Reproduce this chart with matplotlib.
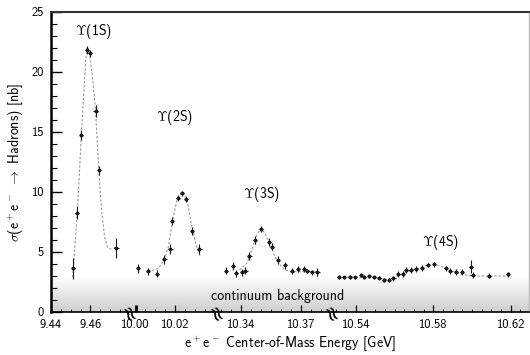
import numpy as np
import matplotlib
matplotlib.use('Agg')
from matplotlib import pyplot as plt
from matplotlib import transforms
from matplotlib.colors import LinearSegmentedColormap
from matplotlib.ticker import FixedLocator, FixedFormatter, NullFormatter

plt.rcParams['font.family'] = ['cmss10', 'DejaVu Sans']
plt.rcParams['mathtext.fontset'] = 'cm'
plt.rcParams['axes.unicode_minus'] = False

# ---- data ----
# Y(1S) scan
e1 = [9.4513, 9.4533, 9.4553, 9.4581, 9.4596, 9.4626, 9.4642, 9.4731]
s1 = [3.64, 8.27, 14.75, 21.83, 21.55, 16.75, 11.8, 5.33]
d1 = [0.9, 0.55, 0.4, 0.3, 0.3, 0.5, 0.35, 0.8]
# Y(2S) scan
e2 = [10.0014, 10.0062, 10.0107, 10.0146, 10.0176, 10.0186, 10.0214, 10.0234,
      10.0256, 10.0286, 10.0323]
s2 = [3.64, 3.39, 3.19, 4.39, 5.25, 7.58, 9.47, 9.89, 9.39, 6.75, 5.25]
d2 = [0.4, 0.3, 0.3, 0.35, 0.4, 0.3, 0.25, 0.2, 0.25, 0.3, 0.45]
# Y(3S) scan
e3 = [10.3324, 10.3359, 10.3375, 10.3407, 10.3422, 10.3442, 10.3469, 10.3499,
      10.3540, 10.3555, 10.3585, 10.3619, 10.3654, 10.3684, 10.3717, 10.3732,
      10.3754, 10.3782]
s3 = [3.44, 3.83, 3.22, 3.31, 3.44, 4.67, 6.0, 6.89, 5.83, 5.44, 4.33, 3.89,
      3.42, 3.56, 3.56, 3.42, 3.31, 3.31]
d3 = [0.3, 0.3, 0.3, 0.3, 0.3, 0.3, 0.3, 0.25, 0.3, 0.3, 0.3, 0.3,
      0.25, 0.25, 0.25, 0.2, 0.2, 0.35]
# Y(4S) scan
e4 = [10.5313, 10.5341, 10.5370, 10.5396, 10.5425, 10.5442, 10.5468, 10.5495,
      10.5520, 10.5546, 10.5571, 10.5594, 10.5619, 10.5642, 10.5658, 10.5683,
      10.5709, 10.5740, 10.5774, 10.5804, 10.5864, 10.5886, 10.5916, 10.5947,
      10.5993, 10.6003, 10.6087, 10.6184]
s4 = [2.94, 2.89, 2.94, 2.89, 3.08, 2.94, 3.0, 2.89, 2.86, 2.67, 2.67, 2.81,
      3.14, 3.14, 3.5, 3.47, 3.56, 3.69, 3.92, 3.97, 3.64, 3.44, 3.36, 3.36,
      3.78, 3.08, 3.03, 3.14]
d4 = [0.15, 0.15, 0.15, 0.15, 0.15, 0.15, 0.15, 0.15, 0.15, 0.2, 0.2, 0.2,
      0.25, 0.25, 0.25, 0.25, 0.25, 0.25, 0.2, 0.2, 0.2, 0.25, 0.25, 0.25,
      0.55, 0.25, 0.2, 0.2]

# fitted line shapes (dashed)
fit1_e = [9.4510, 9.4513, 9.4533, 9.4544, 9.4553, 9.4567, 9.4577, 9.4584, 9.4591,
          9.4600, 9.4613, 9.4626, 9.4642, 9.4656, 9.4671, 9.4686, 9.4699, 9.4714, 9.4729]
fit1_s = [2.9, 3.6, 8.3, 11.6, 14.6, 18.5, 21.2, 22.1, 21.9,
          21.0, 19.1, 16.7, 11.8, 8.5, 6.3, 5.4, 5.25, 5.3, 5.4]
fit2_e = [10.0082, 10.0115, 10.0146, 10.0166, 10.0186, 10.0209, 10.0234, 10.0259,
          10.0285, 10.0306, 10.0327]
fit2_s = [3.44, 3.64, 4.33, 5.44, 7.53, 9.28, 9.97, 9.47, 7.11, 5.58, 4.67]
fit3_e = [10.3392, 10.3429, 10.3454, 10.3479, 10.3499, 10.3520, 10.3545, 10.3570,
          10.3595, 10.3620, 10.3654, 10.3780]
fit3_s = [3.5, 4.06, 5.17, 6.42, 6.97, 6.56, 5.58, 4.61, 3.92, 3.5, 3.36, 3.36]
fit4_e = [10.5310, 10.5413, 10.5499, 10.5559, 10.5602, 10.5654, 10.5706, 10.5757,
          10.5800, 10.5843, 10.5895, 10.5947, 10.5998, 10.6205]
fit4_s = [2.94, 2.89, 2.86, 2.72, 2.89, 3.28, 3.56, 3.83, 3.97, 3.78, 3.42, 3.14,
          3.0, 3.0]

peak_labels = [r'$\Upsilon$(1S)', r'$\Upsilon$(2S)', r'$\Upsilon$(3S)', r'$\Upsilon$(4S)']
peak_label_e = [9.4618, 10.0195, 10.3504, 10.5835]
peak_label_s = [23.4, 16.2, 9.75, 5.75]

major_ticks = [9.44, 9.46, 10.00, 10.02, 10.34, 10.37, 10.54, 10.58, 10.62]
major_labels = ['9.44', '9.46', '10.00', '10.02', '10.34', '10.37', '10.54', '10.58', '10.62']
continuum_top = 3.0

# ---- broken x axis: piecewise linear scale ----
seg_e = [9.44, 9.4785, 9.9957, 10.0397, 10.3265, 10.384, 10.5262, 10.6294]
seg_u = [51, 127, 127.05, 214, 214.05, 329, 329.05, 529]
gap_mid = [9.737, 10.183, 10.455]


def fwd(x):
    return np.interp(x, seg_e, seg_u)


def inv(u):
    return np.interp(u, seg_u, seg_e)


fig = plt.figure(figsize=(5.3, 3.55), dpi=100)
ax = fig.add_axes([51 / 530, 43 / 355, 478 / 530, 300 / 355])
ax.set_xscale('function', functions=(fwd, inv))

# continuum background band
cmap = LinearSegmentedColormap.from_list('bg', ['#ffffff', '#cfcfcf'])
grad = np.linspace(0, 1, 256).reshape(-1, 1)
ax.imshow(grad, extent=(0, 1, 0, continuum_top), transform=ax.get_yaxis_transform(),
          cmap=cmap, aspect='auto', zorder=0, interpolation='bilinear')

for fe, fs in [(fit1_e, fit1_s), (fit2_e, fit2_s), (fit3_e, fit3_s), (fit4_e, fit4_s)]:
    ax.plot(fe, fs, ls=(0, (2.2, 1.6)), color='#9a9a9a', lw=0.8, zorder=2)

for e, s, d in [(e1, s1, d1), (e2, s2, d2), (e3, s3, d3), (e4, s4, d4)]:
    ax.errorbar(e, s, yerr=d, xerr=0.0011, fmt='o', ms=1.8, color='#1a1a1a',
                elinewidth=0.8, capsize=0, zorder=3)

for lab, le, ls in zip(peak_labels, peak_label_e, peak_label_s):
    ax.text(le, ls, lab, ha='center', va='center', fontsize=10)

ax.text(10.3585, 1.33, 'continuum background', ha='center', va='center', fontsize=10)

# break marks on the energy axis
trans = transforms.blended_transform_factory(ax.transData, ax.transAxes)
for g in gap_mid:
    ax.text(g, -0.012, '\u2248', transform=trans, ha='center', va='center',
            fontsize=15, rotation=-65, family='DejaVu Sans', zorder=5,
            clip_on=False)

# ticks
minor = []
for a, b in zip(seg_e[0::2], seg_e[1::2]):
    minor += [t for t in np.arange(9.44, 10.64, 0.005) if a < t < b]
ax.xaxis.set_major_locator(FixedLocator(major_ticks))
ax.xaxis.set_major_formatter(FixedFormatter(major_labels))
ax.xaxis.set_minor_locator(FixedLocator(minor))
ax.xaxis.set_minor_formatter(NullFormatter())
ax.set_yticks(range(0, 26, 5))
ax.set_yticks(range(0, 26), minor=True)
ax.tick_params(axis='both', which='both', direction='in', top=False, right=False,
               labelsize=9)
ax.tick_params(axis='x', which='major', length=5, width=0.9, pad=5)
ax.tick_params(axis='x', which='minor', length=2.5, width=0.6)
ax.tick_params(axis='y', which='major', length=8, width=1.0, pad=5)
ax.tick_params(axis='y', which='minor', length=4, width=0.8)
ax.xaxis.get_major_ticks()[2].tick1line.set_markeredgewidth(2.0)

ax.spines['left'].set_linewidth(1.8)
ax.spines['bottom'].set_linewidth(1.2)
ax.spines['top'].set_linewidth(1.5)
ax.spines['top'].set_color('#333333')
ax.spines['right'].set_linewidth(1.0)
ax.spines['right'].set_color('#bbbbbb')

ax.set_xlim(9.44, 10.6294)
ax.set_ylim(0, 25)
ax.set_xlabel(r'e$^+$e$^-$ Center-of-Mass Energy [GeV]', fontsize=10, labelpad=3)
ax.set_ylabel(r'$\sigma$(e$^+$e$^-$ $\rightarrow$ Hadrons) [nb]', fontsize=10, labelpad=5)

fig.savefig('out.png', dpi=100)
